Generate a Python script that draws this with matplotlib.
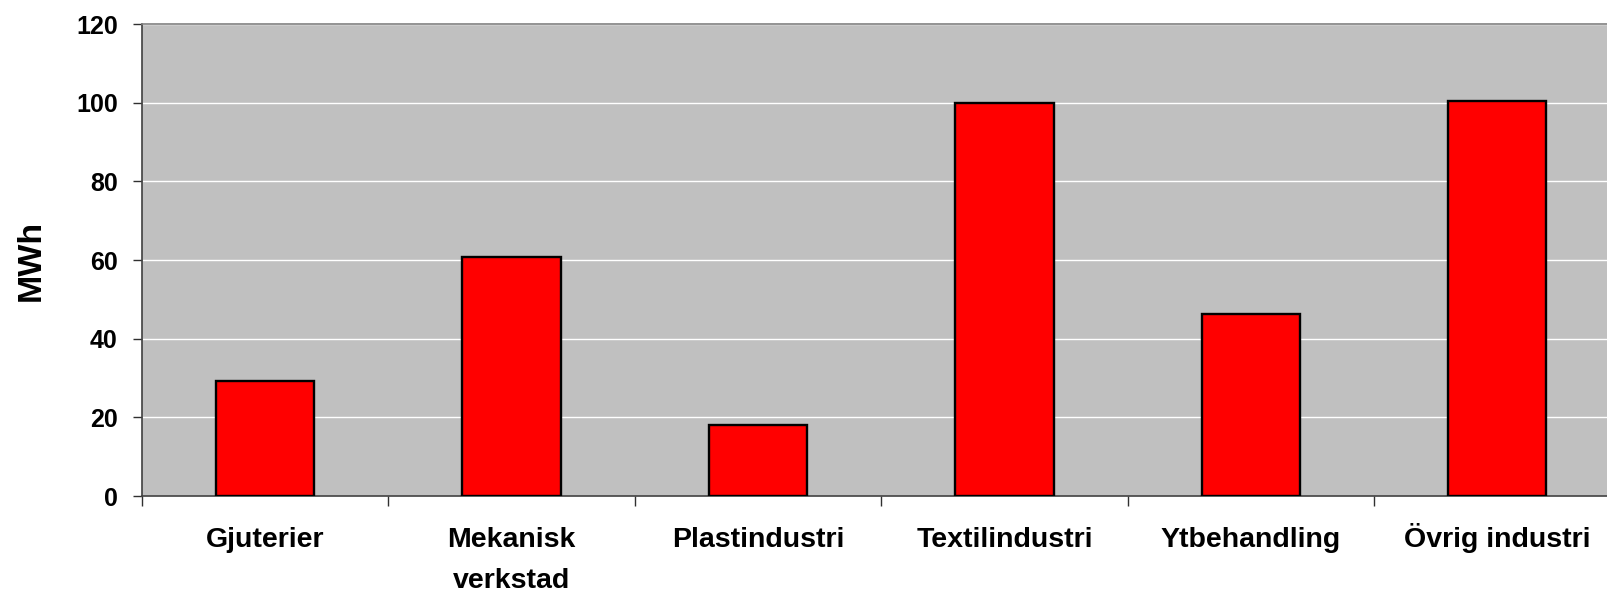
import numpy as np
import matplotlib
matplotlib.use("Agg")
import matplotlib.pyplot as plt

# data
branscher = ["Gjuterier", "Mekanisk\nverkstad", "Plastindustri",
             "Textilindustri", "Ytbehandling", "Övrig industri"]
mwh = [29.3, 60.7, 18.1, 100.0, 46.2, 100.5]
y_ticks = [0, 20, 40, 60, 80, 100, 120]

plt.rcParams['font.family'] = ['Liberation Sans', 'DejaVu Sans']
plt.rcParams['font.weight'] = 'bold'

W, H = 1608, 594
fig = plt.figure(figsize=(W / 100, H / 100), dpi=100)
# plot area continues past the right edge, like in the original
ax = fig.add_axes([142 / W, 98 / H, 6 * 246.4 / W, 472 / H])
ax.set_facecolor('#c0c0c0')

x = np.arange(len(branscher))
ax.bar(x, mwh, width=0.40, color='#ff0000', edgecolor='black', linewidth=1.7, zorder=3)

ax.set_xlim(-0.5, len(branscher) - 0.5)
ax.set_ylim(0, 120)
ax.set_yticks(y_ticks)
ax.yaxis.grid(True, color='white', linewidth=1.0, zorder=0)
ax.set_axisbelow(True)

# tick marks between the categories, labels at the centres
ax.set_xticks(np.arange(len(branscher) + 1) - 0.5)
ax.set_xticklabels([])
ax.set_xticks(x, branscher, minor=True)
ax.tick_params(axis='x', which='major', length=7, width=1.0, color='#303030', direction='out')
ax.tick_params(axis='x', which='minor', length=0, pad=22, labelsize=20.5)
for lab in ax.get_xticklabels(minor=True):
    lab.set_fontweight('bold')
    lab.set_linespacing(1.75)
ax.tick_params(axis='y', length=6.5, width=1.0, color='#303030', pad=11, labelsize=18)
for lab in ax.get_yticklabels():
    lab.set_fontweight('bold')

ax.set_ylabel('MWh', fontsize=24.5, fontweight='bold', labelpad=21)

ax.spines['left'].set_color('#404040')
ax.spines['left'].set_linewidth(1.2)
ax.spines['bottom'].set_color('#404040')
ax.spines['bottom'].set_linewidth(1.2)
ax.spines['top'].set_color('#808080')
ax.spines['top'].set_linewidth(1.2)
ax.spines['right'].set_visible(False)

# the Ö makes its label box taller, so lift that label back onto the common baseline
fig.canvas.draw()
r = fig.canvas.get_renderer()
labs = ax.get_xticklabels(minor=True)
h_ref = labs[0].get_window_extent(r).height
ax_h = ax.get_window_extent(r).height
for lab in labs:
    if '\n' not in lab.get_text():
        extra = lab.get_window_extent(r).height - h_ref
        lab.set_y(extra / ax_h)

fig.savefig('out.png', dpi=100)
